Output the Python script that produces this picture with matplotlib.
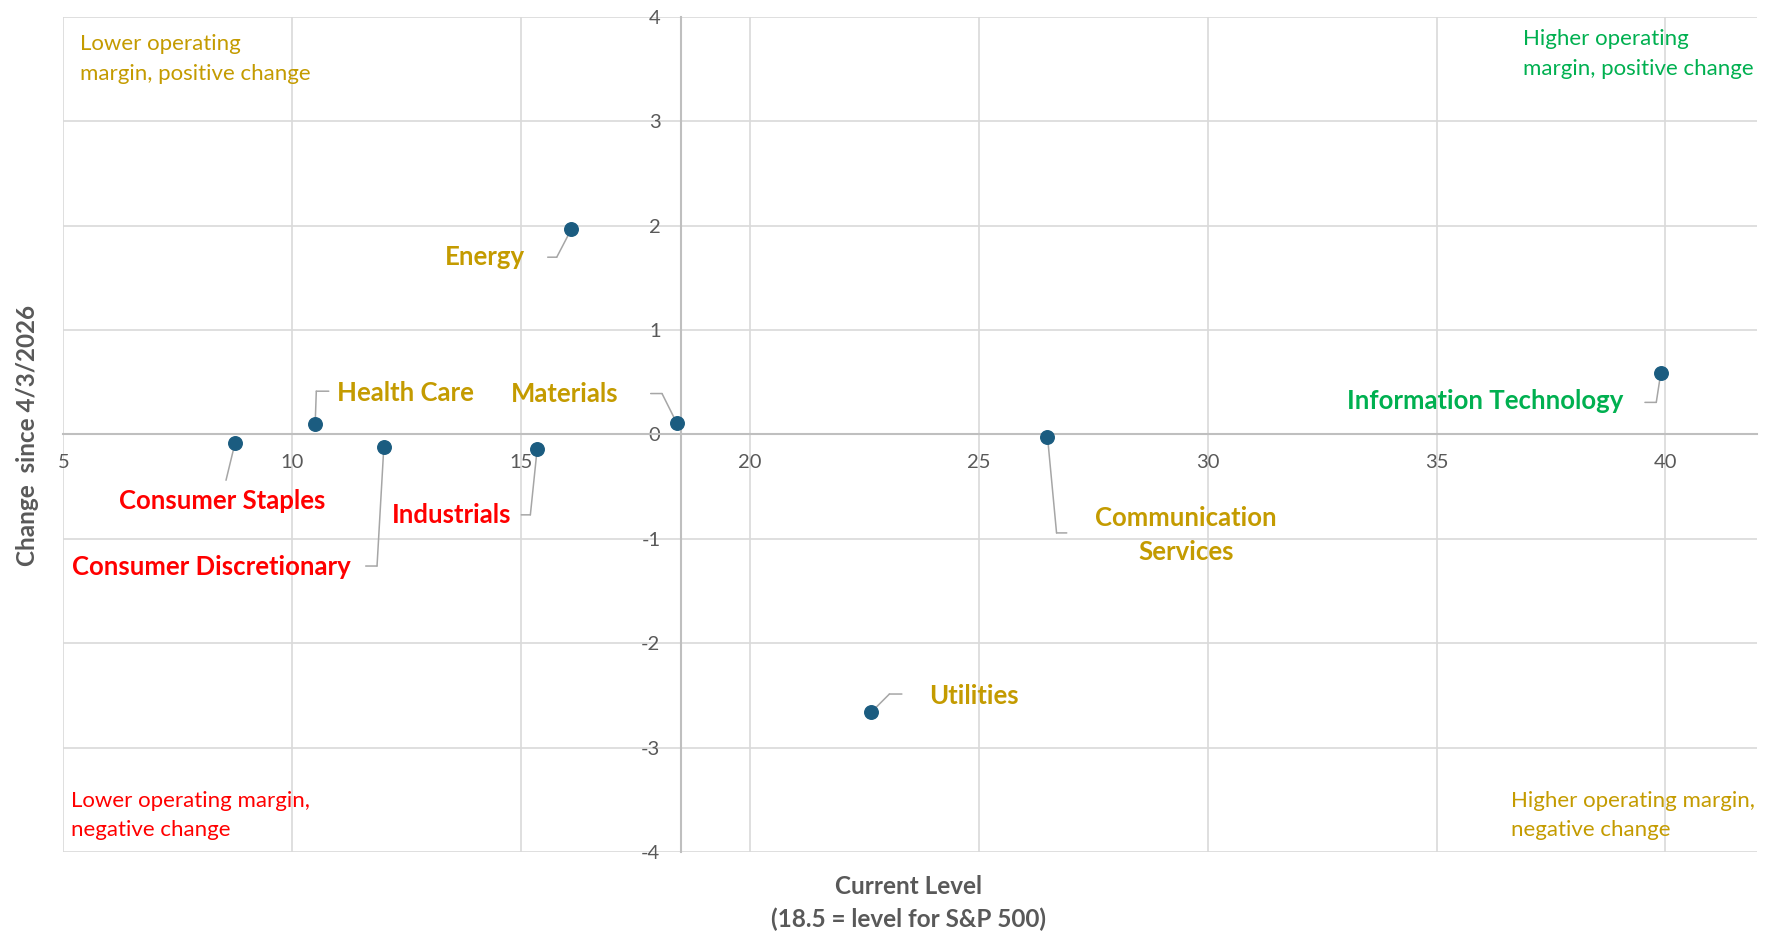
import matplotlib
matplotlib.use("Agg")
import matplotlib.pyplot as plt
import matplotlib.transforms as mtransforms

plt.rcParams['font.family'] = ['Lato', 'DejaVu Sans']
plt.rcParams['axes.unicode_minus'] = False

# ---- data ----
sectors = ["Energy", "Health Care", "Materials", "Consumer Staples", "Industrials",
           "Consumer Discretionary", "Communication\nServices", "Utilities",
           "Information Technology"]
current_level = [16.1, 10.5, 18.4, 8.75, 15.35, 12.0, 26.5, 22.65, 39.9]
change_since = [1.97, 0.10, 0.11, -0.08, -0.14, -0.12, -0.02, -2.66, 0.59]
label_group = ["gold", "gold", "gold", "red", "red", "red", "gold", "gold", "green"]

x_ticks = [5, 10, 15, 20, 25, 30, 35, 40]
y_ticks = [-4, -3, -2, -1, 0, 1, 2, 3, 4]
sp500_level = 18.5

quadrant_texts = ["Lower operating\nmargin, positive change",
                  "Higher operating\nmargin, positive change",
                  "Lower operating margin,\nnegative change",
                  "Higher operating margin,\nnegative change"]
quadrant_group = ["gold", "green", "red", "gold"]

# ---- styles / layout ----
palette = {"gold": "#C49B00", "red": "#FF0000", "green": "#00B050"}
LEADER = "#A6A6A6"
S = 0.816  # reference px -> points
# text offset (dx, dy), ha, leader offsets
layout = [
    ((-41, -25), "right", [(-13, -25), (-21, -25)]),
    ((19, 27), "left", [(1, 29), (12, 29)]),
    ((-51, 26), "right", [(-13, 26), (-23, 26)]),
    ((-11, -51), "center", [(-8, -33)]),
    ((-23, -58), "right", [(-6, -58), (-14, -58)]),
    ((-29, -106), "right", [(-6, -105), (-16, -105)]),
    ((122, -87), "center", [(8, -85), (17, -85)]),
    ((51, 14), "left", [(16, 16), (27, 16)]),
    ((-33, -25), "right", [(-4, -26), (-14, -26)]),
]
quad_pos = [(0.010, 0.9495), (0.862, 0.9555), (0.0047, 0.0435), (0.855, 0.0435)]

fig = plt.figure(figsize=(17.77, 9.32), dpi=100)
ax = fig.add_axes([0.0357, 0.0858, 0.953, 0.896])

ax.set_xlim(5, 42)
ax.set_ylim(-4, 4)
ax.set_xticks(x_ticks)
ax.set_yticks(y_ticks)
ax.grid(True, color="#D9D9D9", lw=1.2)
ax.set_axisbelow(True)

for s in ["top", "right"]:
    ax.spines[s].set_visible(False)
ax.spines["left"].set_position(("data", sp500_level))
ax.spines["bottom"].set_position(("data", 0))
for s in ["left", "bottom"]:
    ax.spines[s].set_color("#BFBFBF")
    ax.spines[s].set_linewidth(1.5)
    ax.spines[s].set_zorder(1.5)

ax.tick_params(axis="both", length=0, labelsize=14.5, labelcolor="#595959")
ax.tick_params(axis="y", pad=15)
ax.tick_params(axis="x", pad=14)


def seg(x, y, p0, p1):
    tr = mtransforms.offset_copy(ax.transData, fig=fig, x=p0[0] * S, y=p0[1] * S,
                                 units="points")
    ax.annotate("", xy=(x, y), xycoords=tr,
                xytext=((p1[0] - p0[0]) * S, (p1[1] - p0[1]) * S),
                textcoords="offset points",
                arrowprops=dict(arrowstyle="-", color=LEADER, lw=1.1,
                                shrinkA=0, shrinkB=0), zorder=2)


for i, name in enumerate(sectors):
    x, y = current_level[i], change_since[i]
    (tdx, tdy), ha, leader = layout[i]
    pts = [(0, 0)] + leader
    for a, b in zip(pts[:-1], pts[1:]):
        seg(x, y, a, b)
    ax.annotate(name, xy=(x, y), xycoords="data",
                xytext=(tdx * S, tdy * S), textcoords="offset points",
                ha=ha, va="center", multialignment="center",
                fontsize=18.5, fontweight="bold", color=palette[label_group[i]],
                linespacing=1.5, zorder=4)

ax.scatter(current_level, change_since, s=95, color="#1B5C80", zorder=3)

for t, (qx, qy), g in zip(quadrant_texts, quad_pos, quadrant_group):
    ax.text(qx, qy, t, transform=ax.transAxes, ha="left", va="center",
            fontsize=16, color=palette[g], linespacing=1.58)

fig.text(0.511, 0.031, "Current Level\n(18.5 = level for S&P 500)", ha="center",
         va="center", fontsize=17.5, fontweight="bold", color="#595959", linespacing=1.5)
fig.text(0.0155, 0.533, "Change  since 4/3/2026", ha="center", va="center",
         rotation=90, fontsize=17.5, fontweight="bold", color="#595959")

fig.savefig("out.png", dpi=100)
